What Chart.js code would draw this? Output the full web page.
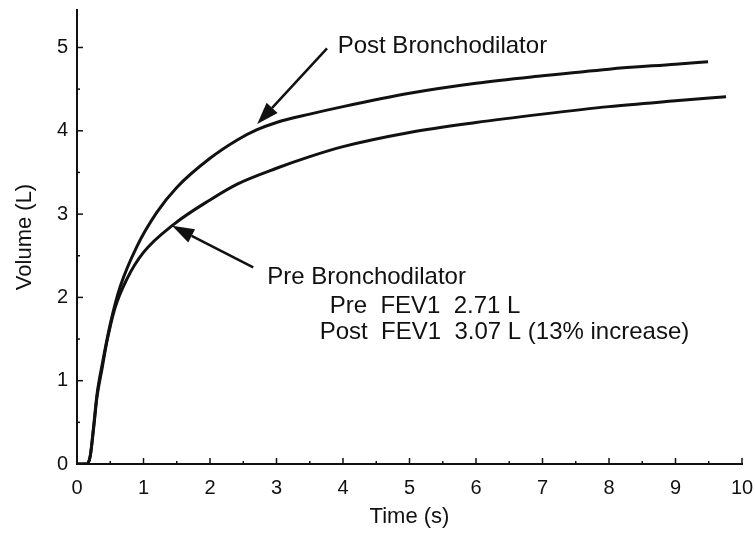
<!DOCTYPE html>
<html>
<head>
<meta charset="utf-8">
<script src="https://cdn.jsdelivr.net/npm/chart.js@4.4.0/dist/chart.umd.min.js"></script>
<style>
  html, body { margin: 0; padding: 0; background: #fff; }
</style>
</head>
<body>
<canvas id="chart" width="755" height="534"></canvas>
<script>
// spirometry volume-time curves
const preTime = [0, 0.15, 0.2, 0.25, 0.3, 0.38, 0.45, 0.57, 0.75, 1.0, 1.46, 2.0, 2.41, 3.0, 3.5, 4.0, 5.0, 6.0, 7.0, 8.0, 9.0, 9.76];
const preVolume = [0, 0, 0.1, 0.43, 0.8, 1.16, 1.47, 1.87, 2.22, 2.54, 2.88, 3.17, 3.36, 3.55, 3.69, 3.81, 3.98, 4.1, 4.2, 4.29, 4.36, 4.41];
const postTime = [0, 0.15, 0.2, 0.25, 0.3, 0.38, 0.5, 0.65, 0.9, 1.2, 1.5, 2.0, 2.41, 2.7, 3.0, 3.5, 4.0, 5.0, 6.0, 7.0, 8.0, 9.0, 9.49];
const postVolume = [0, 0, 0.1, 0.45, 0.83, 1.2, 1.68, 2.13, 2.61, 3.02, 3.32, 3.67, 3.89, 4.01, 4.1, 4.2, 4.29, 4.45, 4.57, 4.66, 4.74, 4.8, 4.83];
const xTicks = [0, 1, 2, 3, 4, 5, 6, 7, 8, 9, 10];
const yTicks = [0, 1, 2, 3, 4, 5];
const fevLines = ['Pre  FEV1  2.71 L', 'Post  FEV1  3.07 L (13% increase)'];

const FONT = "'Liberation Sans', Arial, sans-serif";
const INK = '#111';

const toPoints = (xs, ys) => xs.map((t, i) => ({ x: t, y: ys[i] }));

// small ticks pointing into the plot, every half unit
const inwardTicks = {
	id: 'inwardTicks',
	afterDatasetsDraw(chart) {
		const { ctx, scales: { x, y } } = chart;
		ctx.save();
		ctx.strokeStyle = INK;
		ctx.lineWidth = 1.5;
		for (let v = 0.5; v <= 10; v += 0.5) {
			const px = x.getPixelForValue(v);
			const len = v % 1 === 0 ? 6 : 3;
			ctx.beginPath();
			ctx.moveTo(px, y.bottom);
			ctx.lineTo(px, y.bottom - len);
			ctx.stroke();
		}
		for (let v = 0.5; v <= 5; v += 0.5) {
			const py = y.getPixelForValue(v);
			const len = v % 1 === 0 ? 6 : 3;
			ctx.beginPath();
			ctx.moveTo(x.left, py);
			ctx.lineTo(x.left + len, py);
			ctx.stroke();
		}
		ctx.restore();
	},
};

function arrow(ctx, x0, y0, x1, y1) {
	const ang = Math.atan2(y1 - y0, x1 - x0);
	const headLen = 22, headW = 7.5;
	const bx = x1 - headLen * Math.cos(ang);
	const by = y1 - headLen * Math.sin(ang);
	ctx.beginPath();
	ctx.moveTo(x0, y0);
	ctx.lineTo(bx, by);
	ctx.stroke();
	ctx.beginPath();
	ctx.moveTo(x1, y1);
	ctx.lineTo(bx + headW * Math.sin(ang), by - headW * Math.cos(ang));
	ctx.lineTo(bx - headW * Math.sin(ang), by + headW * Math.cos(ang));
	ctx.closePath();
	ctx.fill();
}

const notes = {
	id: 'notes',
	afterDraw(chart) {
		const { ctx, scales: { x, y } } = chart;
		const X = (v) => x.getPixelForValue(v);
		const Y = (v) => y.getPixelForValue(v);
		ctx.save();
		ctx.strokeStyle = INK;
		ctx.fillStyle = INK;
		ctx.lineWidth = 2.5;
		arrow(ctx, X(3.76), Y(4.99), X(2.71), Y(4.08));
		arrow(ctx, X(2.65), Y(2.36), X(1.43), Y(2.86));

		ctx.font = '24px ' + FONT;
		ctx.textAlign = 'left';
		ctx.textBaseline = 'middle';
		ctx.fillText('Post Bronchodilator', X(3.92), Y(5.01));
		ctx.fillText('Pre Bronchodilator', X(2.86), Y(2.24));
		ctx.fillText(fevLines[0], X(3.8), Y(1.89));
		ctx.fillText(fevLines[1], X(3.65), Y(1.58));
		ctx.restore();
	},
};

const keepTicks = (list) => (scale) => {
	scale.ticks = list.map((v) => ({ value: v }));
};

// fixed axis boxes so the plot area lands where the original one is
const fixBox = (w, h) => (s) => {
	if (w) s.width = w;
	if (h) s.height = h;
	s.paddingTop = 0;
	s.paddingBottom = 0;
	s.paddingLeft = 0;
	s.paddingRight = 0;
};

new Chart(document.getElementById('chart').getContext('2d'), {
	type: 'scatter',
	data: {
		datasets: [
			{
				label: 'Post Bronchodilator',
				data: toPoints(postTime, postVolume),
				showLine: true,
				borderColor: INK,
				borderWidth: 3,
				pointRadius: 0,
				cubicInterpolationMode: 'monotone',
			},
			{
				label: 'Pre Bronchodilator',
				data: toPoints(preTime, preVolume),
				showLine: true,
				borderColor: INK,
				borderWidth: 3,
				pointRadius: 0,
				cubicInterpolationMode: 'monotone',
			},
		],
	},
	options: {
		responsive: false,
		animation: false,
		layout: { padding: { top: 10, right: 13, left: 0, bottom: 0 } },
		plugins: { legend: { display: false }, tooltip: { enabled: false } },
		scales: {
			x: {
				type: 'linear',
				min: 0,
				max: 10,
				afterBuildTicks: keepTicks(xTicks),
				afterFit: fixBox(0, 70),
				grid: { display: false, drawTicks: false },
				border: { color: INK, width: 2 },
				ticks: { color: INK, padding: 12, font: { family: FONT, size: 20 } },
				title: {
					display: true,
					text: 'Time (s)',
					color: INK,
					font: { family: FONT, size: 22 },
					padding: { top: 0, bottom: 4 },
				},
			},
			y: {
				type: 'linear',
				min: 0,
				max: 5.45,
				afterBuildTicks: keepTicks(yTicks),
				afterFit: fixBox(77, 0),
				grid: { display: false, drawTicks: false },
				border: { color: INK, width: 2 },
				ticks: { color: INK, padding: 9, font: { family: FONT, size: 20 } },
				title: {
					display: true,
					text: 'Volume (L)',
					color: INK,
					font: { family: FONT, size: 22 },
					padding: { top: 12, bottom: 0 },
				},
			},
		},
	},
	plugins: [inwardTicks, notes],
});
</script>
</body>
</html>
